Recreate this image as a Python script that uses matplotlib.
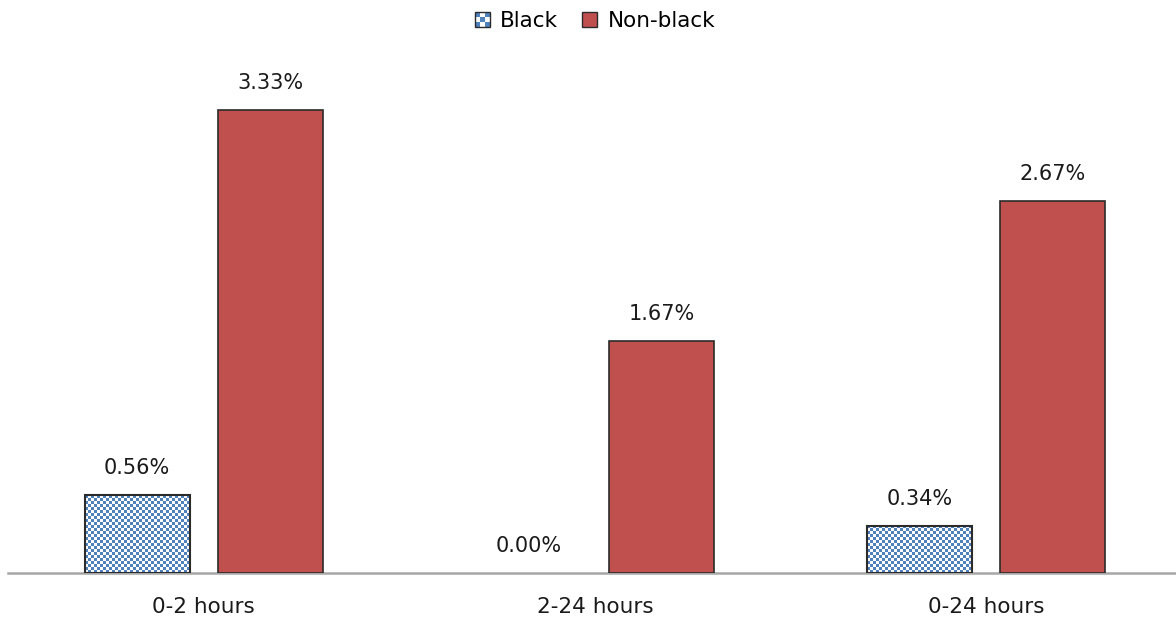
import numpy as np
import matplotlib
matplotlib.use("Agg")
import matplotlib.pyplot as plt
from matplotlib.patches import Patch, Rectangle
from matplotlib.colors import ListedColormap
from matplotlib.legend_handler import HandlerPatch

categories = ["0-2 hours", "2-24 hours", "0-24 hours"]
black_vals = [0.56, 0.00, 0.34]
nonblack_vals = [3.33, 1.67, 2.67]
series_names = ["Black", "Non-black"]

BLUE = "#4F81BD"
RED = "#C0504D"
EDGE = "#2b2b2b"

plt.rcParams["font.family"] = ["DejaVu Sans"]

W, H, DPI = 1176, 623, 100
fig = plt.figure(figsize=(W / DPI, H / DPI), dpi=DPI)
ax = fig.add_axes([8 / W, 50 / H, 1 - 8 / W, (573 - 86) / H])

x = np.arange(len(categories))
bw = 0.268
off = 0.17
XLIM = (-0.5, 2.485)
YLIM = (0, 3.5)

ax.set_xlim(*XLIM)
ax.set_ylim(*YLIM)

black_bars = ax.bar(x - off, black_vals, bw, facecolor="none",
                    edgecolor=EDGE, linewidth=1.5, zorder=3)
red_bars = ax.bar(x + off, nonblack_vals, bw, color=RED,
                  edgecolor=EDGE, linewidth=1.2, zorder=3)

# checkerboard fill for the Black series, clipped to each bar
checker_cmap = ListedColormap(["white", BLUE])
cell = 3.0
for b in black_bars:
    h = b.get_height()
    if h <= 0:
        b.set_visible(False)
        continue
    x0, y0 = b.get_x(), b.get_y()
    (px0, py0), (px1, py1) = ax.transData.transform([(x0, y0), (x0 + b.get_width(), y0 + h)])
    nx = max(1, int(round((px1 - px0) / cell)))
    ny = max(1, int(round((py1 - py0) / cell)))
    ii, jj = np.indices((ny, nx))
    pattern = ((ii + jj) % 2 == 0).astype(float)
    im = ax.imshow(pattern, cmap=checker_cmap, vmin=0, vmax=1,
                   extent=(x0, x0 + b.get_width(), y0, y0 + h),
                   interpolation="nearest", aspect="auto", zorder=2)
    im.set_clip_path(b)
ax.set_xlim(*XLIM)
ax.set_ylim(*YLIM)

for bars, vals in ((black_bars, black_vals), (red_bars, nonblack_vals)):
    for b, v in zip(bars, vals):
        ax.annotate(f"{v:.2f}%", (b.get_x() + b.get_width() / 2, v),
                    xytext=(0, 19.5), textcoords="offset points",
                    ha="center", va="center", fontsize=15, color="#1a1a1a")

for s in ("left", "right", "top"):
    ax.spines[s].set_visible(False)
ax.spines["bottom"].set_color("#A6A6A6")
ax.spines["bottom"].set_linewidth(1.8)
ax.set_yticks([])
ax.set_xticks(x)
ax.set_xticklabels(categories, fontsize=15.5, color="#1a1a1a")
ax.tick_params(axis="x", length=0, pad=17.5)


class CheckerHandler(HandlerPatch):
    def create_artists(self, legend, orig_handle, xdescent, ydescent,
                       width, height, fontsize, trans):
        s = height * 1.0
        xo = -xdescent + (width - s) / 2
        yo = -ydescent + (height - s) / 2
        arts = []
        n = 3
        c = s / n
        for i in range(n):
            for j in range(n):
                col = BLUE if (i + j) % 2 == 0 else "white"
                r = Rectangle((xo + i * c, yo + j * c), c, c, facecolor=col,
                              edgecolor="none", transform=trans)
                arts.append(r)
        arts.append(Rectangle((xo, yo), s, s, facecolor="none",
                              edgecolor=EDGE, linewidth=1.0, transform=trans))
        return arts


class SquareHandler(HandlerPatch):
    def create_artists(self, legend, orig_handle, xdescent, ydescent,
                       width, height, fontsize, trans):
        s = height * 1.0
        xo = -xdescent + (width - s) / 2
        yo = -ydescent + (height - s) / 2
        return [Rectangle((xo, yo), s, s, facecolor=RED, edgecolor=EDGE,
                          linewidth=1.0, transform=trans)]


h_black = Patch(facecolor=BLUE)
h_red = Patch(facecolor=RED)
fig.legend([h_black, h_red], series_names, loc="center",
           bbox_to_anchor=(595 / W, 1 - 21 / H), ncol=2, frameon=False,
           fontsize=15.5, handlelength=0.7, handleheight=0.7,
           handletextpad=0.5, columnspacing=1.1,
           handler_map={h_black: CheckerHandler(), h_red: SquareHandler()})

fig.savefig("out.png", dpi=DPI)
